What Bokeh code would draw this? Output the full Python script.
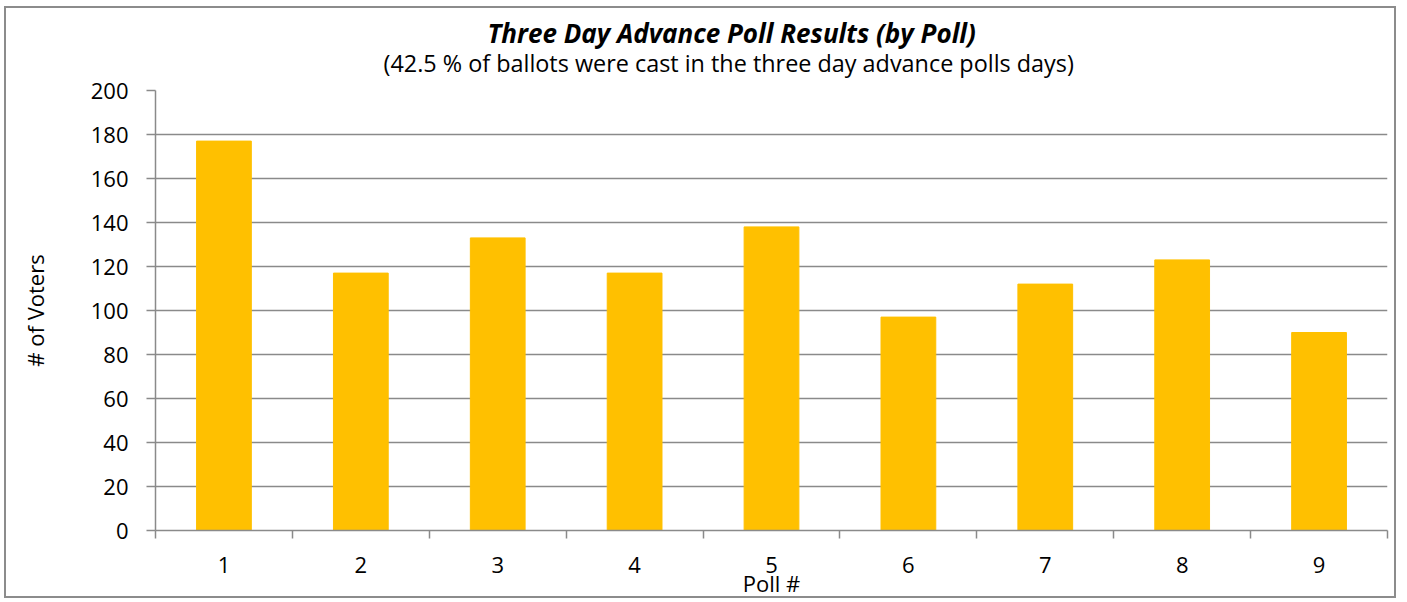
from bokeh.plotting import figure
from bokeh.models import FixedTicker, Title, ColumnDataSource, Range1d
from bokeh.embed import file_html
from bokeh.resources import INLINE

polls = [1, 2, 3, 4, 5, 6, 7, 8, 9]
voters = [177, 117, 133, 117, 138, 97, 112, 123, 90]
y_ticks = [0, 20, 40, 60, 80, 100, 120, 140, 160, 180, 200]
title_text = "Three Day Advance Poll Results (by Poll)"
subtitle_text = "(42.5 % of ballots were cast in the three day advance polls days)"

FONT = "Open Sans"
GRID = "#8a8a8a"

p = figure(width=1392, height=592, output_backend="svg", toolbar_location=None,
           x_range=Range1d(0.5, 9.5), y_range=Range1d(0, 200),
           min_border_left=149, min_border_right=11, min_border_top=82, min_border_bottom=70)
p.styles = {"border": "2px solid #8c8c8c", "margin-left": "4px", "margin-top": "6px"}

src = ColumnDataSource(dict(x=polls, top=voters))
p.vbar(x="x", top="top", width=0.4, bottom=0, source=src, color="#FFC000")

p.outline_line_color = None
p.xgrid.grid_line_color = None
p.ygrid.grid_line_color = GRID
p.ygrid.grid_line_width = 1.5
p.ygrid.ticker = FixedTicker(ticks=y_ticks)

xa = p.xaxis[0]
xa.ticker = FixedTicker(ticks=polls, minor_ticks=[i + 0.5 for i in range(0, 10)])
xa.major_tick_line_color = None
xa.major_tick_out = 0
xa.major_tick_in = 0
xa.minor_tick_out = 8
xa.minor_tick_in = 0
xa.minor_tick_line_color = GRID
xa.minor_tick_line_width = 1.5
xa.axis_line_color = GRID
xa.axis_line_width = 1.5
xa.major_label_standoff = 18
xa.major_label_text_font = FONT
xa.major_label_text_font_size = "22px"
xa.major_label_text_color = "#000000"
xa.axis_label = "Poll #"
xa.axis_label_text_font = FONT
xa.axis_label_text_font_size = "22px"
xa.axis_label_text_font_style = "normal"
xa.axis_label_text_color = "#000000"
xa.axis_label_standoff = -8

ya = p.yaxis[0]
ya.ticker = FixedTicker(ticks=y_ticks)
ya.minor_tick_line_color = None
ya.major_tick_out = 9
ya.major_tick_in = 0
ya.major_tick_line_color = GRID
ya.major_tick_line_width = 1.5
ya.axis_line_color = GRID
ya.axis_line_width = 1.5
ya.major_label_standoff = 18
ya.major_label_text_font = FONT
ya.major_label_text_font_size = "22px"
ya.major_label_text_color = "#000000"
ya.axis_label = "# of Voters"
ya.axis_label_text_font = FONT
ya.axis_label_text_font_size = "22px"
ya.axis_label_text_font_style = "normal"
ya.axis_label_text_color = "#000000"
ya.axis_label_standoff = 38

p.add_layout(Title(text=subtitle_text, align="left", offset=228, standoff=24,
                   text_font=FONT, text_font_size="23.4px", text_font_style="normal",
                   text_color="#000000"), "above")
p.add_layout(Title(text=title_text, align="left", offset=332, standoff=-37,
                   text_font=FONT, text_font_size="26px", text_font_style="bold italic",
                   text_color="#000000"), "above")

open("out.html", "w").write(file_html(p, INLINE))
